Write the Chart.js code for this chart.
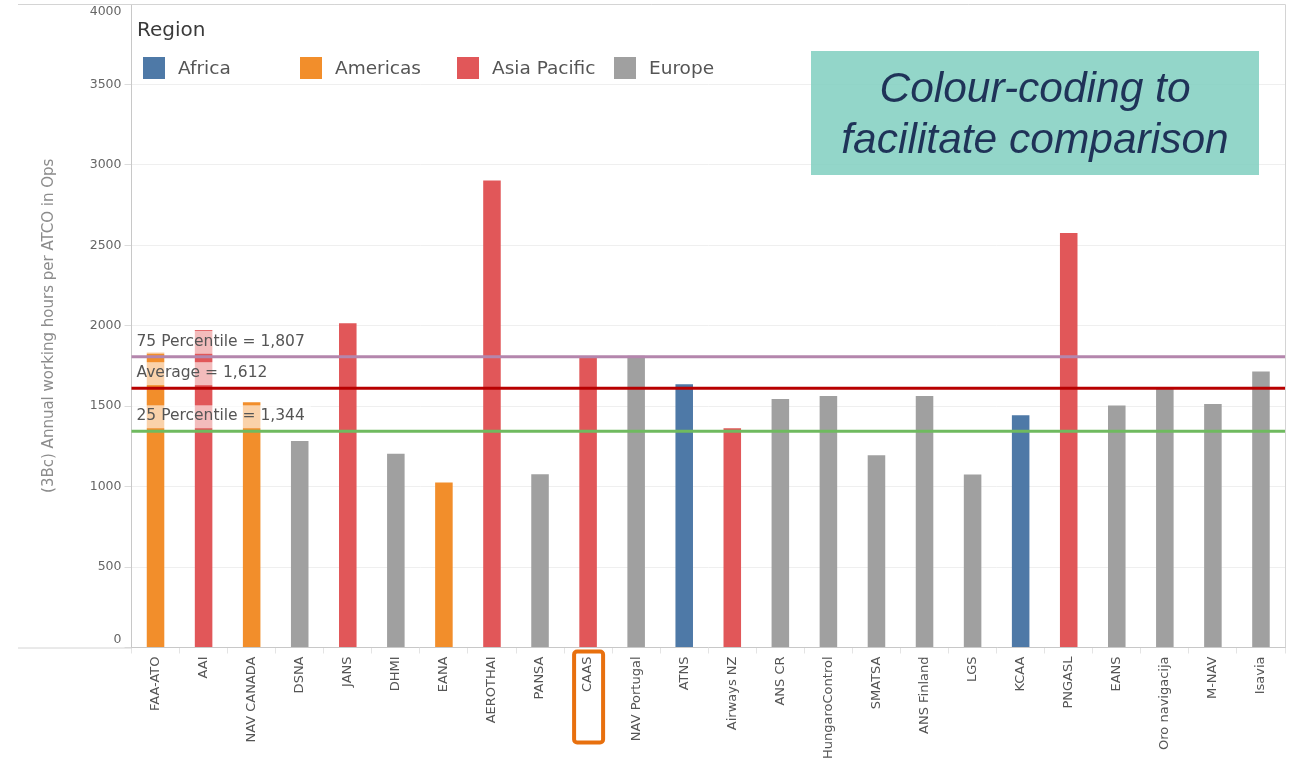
<!DOCTYPE html>
<html>
<head>
<meta charset="utf-8">
<script src="https://cdn.jsdelivr.net/npm/chart.js@4/dist/chart.umd.min.js"></script>
<style>
  body { margin: 0; background: #fff; }
  #wrap { position: relative; width: 1298px; height: 764px; overflow: hidden; }
  #legend { position: absolute; left: 137px; top: 17px; font-family: "DejaVu Sans", sans-serif; }
  #legend .title { font-size: 20px; color: #3a3a3a; }
  #legend .item { position: absolute; top: 40px; white-space: nowrap; font-size: 18.5px; color: #555; }
  #legend .sw { position: absolute; left: 0; top: 0; width: 22px; height: 22px; }
  #legend .lbl { position: absolute; left: 35px; top: 0; line-height: 22px; }
  #note { position: absolute; left: 811px; top: 51px; width: 448px; height: 124px;
          background: rgba(128, 207, 191, 0.85); color: #1f3358;
          font-family: "Liberation Sans", Arial, sans-serif; font-style: italic; font-size: 42.5px;
          line-height: 51px; text-align: center; display: flex; align-items: center; justify-content: center; }
</style>
</head>
<body>
<div id="wrap">
  <canvas id="bar"></canvas>
  <div id="legend"><div class="title">Region</div></div>
  <div id="note"><div>Colour-coding to<br>facilitate comparison</div></div>
</div>
<script>
const categories = ["FAA-ATO", "AAI", "NAV CANADA", "DSNA", "JANS", "DHMI", "EANA", "AEROTHAI", "PANSA", "CAAS",
  "NAV Portugal", "ATNS", "Airways NZ", "ANS CR", "HungaroControl", "SMATSA", "ANS Finland", "LGS", "KCAA",
  "PNGASL", "EANS", "Oro navigacija", "M-NAV", "Isavia"];
const hours = [1833, 1973, 1525, 1284, 2016, 1205, 1025, 2903, 1077, 1810,
  1813, 1637, 1363, 1545, 1564, 1195, 1564, 1075, 1444,
  2576, 1504, 1618, 1514, 1715];
const regionOf = ["Americas", "Asia Pacific", "Americas", "Europe", "Asia Pacific", "Europe", "Americas", "Asia Pacific", "Europe", "Asia Pacific",
  "Europe", "Africa", "Asia Pacific", "Europe", "Europe", "Europe", "Europe", "Europe", "Africa",
  "Asia Pacific", "Europe", "Europe", "Europe", "Europe"];
const regions = ["Africa", "Americas", "Asia Pacific", "Europe"];
const regionColors = ["#4e79a7", "#f28e2b", "#e15759", "#a0a0a0"];
const yTicks = [0, 500, 1000, 1500, 2000, 2500, 3000, 3500, 4000];
const refValues = [1807, 1612, 1344];
const refLabels = ["75 Percentile = 1,807", "Average = 1,612", "25 Percentile = 1,344"];
const refColors = ["#b486ad", "#b80000", "#6fba5f"];
const highlightCategory = "CAAS";

// html legend
const legend = document.getElementById('legend');
regions.forEach(function (r, i) {
  const it = document.createElement('div');
  it.className = 'item';
  it.style.left = (6 + i * 157) + 'px';
  it.innerHTML = '<span class="sw" style="background:' + regionColors[i] + '"></span><span class="lbl">' + r + '</span>';
  legend.appendChild(it);
});

const datasets = regions.map(function (r, i) {
  return {
    label: r,
    data: hours.map(function (v, k) { return regionOf[k] === r ? v : null; }),
    backgroundColor: regionColors[i],
    barPercentage: 0.365,
    categoryPercentage: 1
  };
});

const refLines = {
  id: 'refLines',
  afterDatasetsDraw(chart) {
    const ctx = chart.ctx, a = chart.chartArea, y = chart.scales.y;
    ctx.save();
    refValues.forEach(function (v, i) {
      const py = y.getPixelForValue(v);
      ctx.strokeStyle = refColors[i];
      ctx.lineWidth = 3;
      ctx.beginPath();
      ctx.moveTo(a.left, py);
      ctx.lineTo(a.right, py);
      ctx.stroke();
    });
    ctx.font = '15.5px "DejaVu Sans"';
    ctx.textBaseline = 'middle';
    refValues.forEach(function (v, i) {
      const py = y.getPixelForValue(v);
      const w = ctx.measureText(refLabels[i]).width;
      ctx.fillStyle = 'rgba(255,255,255,0.6)';
      ctx.fillRect(a.left + 1, py - 26, w + 10, 23);
      ctx.fillStyle = '#555';
      ctx.fillText(refLabels[i], a.left + 5, py - 15);
    });
    ctx.restore();
  },
  afterDraw(chart) {
    const ctx = chart.ctx, a = chart.chartArea, x = chart.scales.x;
    ctx.save();
    // pane frame
    ctx.strokeStyle = '#d4d4d4';
    ctx.lineWidth = 1;
    ctx.beginPath();
    ctx.moveTo(18, a.top + 0.5); ctx.lineTo(a.right + 0.5, a.top + 0.5);
    ctx.lineTo(a.right + 0.5, a.bottom);
    ctx.moveTo(18, a.bottom + 0.5); ctx.lineTo(a.left, a.bottom + 0.5);
    ctx.stroke();
    // highlight box round the CAAS label
    const cx = x.getPixelForValue(categories.indexOf(highlightCategory));
    ctx.strokeStyle = '#e8700e';
    ctx.lineWidth = 4;
    ctx.beginPath();
    ctx.roundRect(cx - 14, a.bottom + 4, 29, 91, 3);
    ctx.stroke();
    ctx.restore();
  }
};

const config = {
  type: 'bar',
  data: { labels: categories, datasets: datasets },
  options: {
    responsive: true,
    maintainAspectRatio: false,
    animation: false,
    layout: { padding: { left: 36, right: 13, top: 4, bottom: 0 } },
    scales: {
      x: {
        stacked: true,
        grid: { display: true, drawOnChartArea: false, drawTicks: true, tickLength: 6, color: '#e4e4e4' },
        border: { color: '#c8c8c8' },
        ticks: {
          autoSkip: false, maxRotation: 90, minRotation: 90, padding: 3,
          color: '#555', font: { family: 'DejaVu Sans', size: 13 }
        },
        afterFit: function (s) { s.height = 116.5; }
      },
      y: {
        stacked: true,
        min: 0, max: 4000,
        afterBuildTicks: function (s) { s.ticks = yTicks.map(function (v) { return { value: v }; }); },
        grid: { color: '#efefef', tickColor: '#dcdcdc', tickLength: 7 },
        border: { color: '#c8c8c8' },
        ticks: {
          padding: 3, color: '#666', font: { family: 'DejaVu Sans', size: 12.5 },
          // edge labels are nudged inside the pane, as in the original
          callback: function (v) {
            if (v === yTicks[yTicks.length - 1]) return ['', String(v)];
            if (v === yTicks[0]) return [String(v), ''];
            return String(v);
          }
        },
        title: {
          display: true,
          text: '(3Bc) Annual working hours per ATCO in Ops',
          color: '#8c8c8c',
          font: { family: 'DejaVu Sans', size: 15 }
        },
        afterFit: function (s) {
          s.width = 131.5 - 36;
          s.paddingTop = 0;
          s.paddingBottom = 0;
        }
      }
    },
    plugins: {
      legend: { display: false },
      tooltip: { enabled: false }
    }
  },
  plugins: [refLines]
};

var myChart = new Chart(document.getElementById('bar'), config);
</script>
</body>
</html>
